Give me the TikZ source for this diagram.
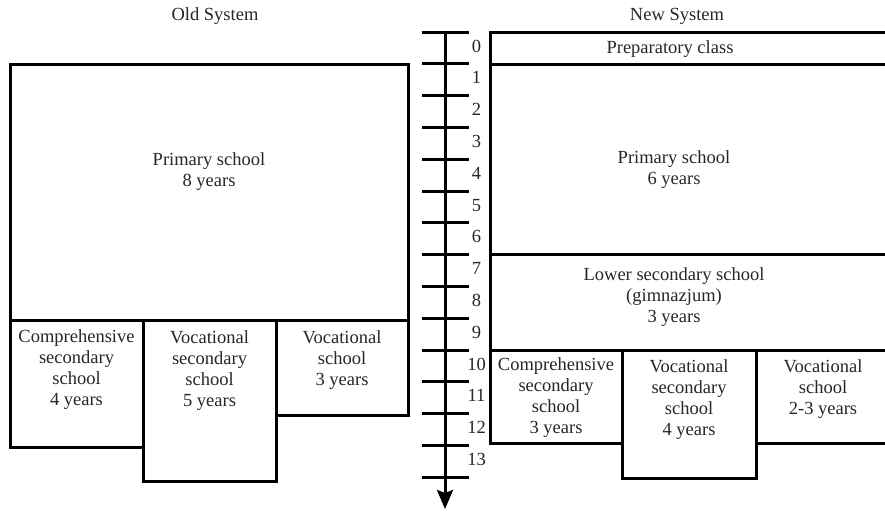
\documentclass[tikz,border=0pt]{standalone}
\usepackage{fontspec}
\setmainfont{Liberation Serif}
\usetikzlibrary{arrows.meta}
\begin{document}
\begin{tikzpicture}[x=1pt,y=-1pt,
  boxline/.style={line width=3pt,line join=miter},
  axisline/.style={line width=3pt},
  txt/.style={inner sep=0pt,align=center,anchor=north,font=\fontsize{18.5}{21}\selectfont,text=black!85},
  single/.style={inner sep=0pt,anchor=base,font=\fontsize{18.5}{21}\selectfont,text=black!85}]
\useasboundingbox (0,0) rectangle (885,512);
% titles
\node[single] (oldt) at (215,20.5) {Old System};
\node[single] (newt) at (677,20.5) {New System};
% old system boxes
\draw[boxline] (10,64) rectangle (408,320);
\draw[boxline] (10,320) rectangle (143,447);
\draw[boxline] (143,320) rectangle (276,481);
\draw[boxline] (276,320) rectangle (408,415);
\node[txt] (oprim) at (209,152.4) {Primary school\\8 years};
\node[txt] (ocomp) at (76.5,329.6) {Comprehensive\\secondary\\school\\4 years};
\node[txt] (ovsec) at (209.5,330.4) {Vocational\\secondary\\school\\5 years};
\node[txt] (ovoc) at (342,330.4) {Vocational\\school\\3 years};
% new system boxes
\draw[boxline] (895,32) -- (490,32) -- (490,64) -- (895,64);
\draw[boxline] (895,64) -- (490,64) -- (490,254) -- (895,254);
\draw[boxline] (895,254) -- (490,254) -- (490,350) -- (895,350);
\draw[boxline] (490,350) rectangle (622,443);
\draw[boxline] (622,350) rectangle (756,478);
\draw[boxline] (895,350) -- (756,350) -- (756,443) -- (895,443);
\node[single] (nprep) at (670,53) {Preparatory class};
\node[txt] (nprim) at (674,150.4) {Primary school\\6 years};
\node[txt] (nlow) at (674,267.4) {Lower secondary school\\(gimnazjum)\\3 years};
\node[txt] (ncomp) at (556,357.4) {Comprehensive\\secondary\\school\\3 years};
\node[txt] (nvsec) at (689,359) {Vocational\\secondary\\school\\4 years};
\node[txt] (nvoc) at (823,359) {Vocational\\school\\2-3 years};
% axis
\coordinate (atop) at (445,32);
\coordinate (abot) at (445,509);
\draw[axisline,-{Stealth[length=19pt,width=16pt,inset=3pt]}] (atop) -- (abot);
\foreach \k in {0,...,14} {
  \draw[axisline] (422,32+31.8*\k) -- (469,32+31.8*\k);
}
\foreach \k in {0,...,13} {
  \node[single] (n\k) at (476.5,52+31.8*\k) {\k};
}
\end{tikzpicture}
\end{document}
